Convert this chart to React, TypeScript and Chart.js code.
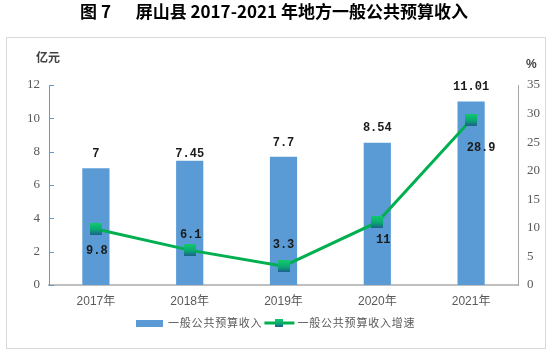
import React, { useEffect, useRef } from "react";
import { Chart, registerables } from "chart.js";

Chart.register(...registerables);

const categories = ["2017年", "2018年", "2019年", "2020年", "2021年"];
const revenue = [7, 7.45, 7.7, 8.54, 11.01];
const growth = [9.8, 6.1, 3.3, 11, 28.9];
const revenueLabels = ["7", "7.45", "7.7", "8.54", "11.01"];
const growthLabels = ["9.8", "6.1", "3.3", "11", "28.9"];
const seriesNames = ["一般公共预算收入", "一般公共预算收入增速"];
const leftUnit = "亿元";
const rightUnit = "%";
const titleText = "图 7\u3000  屏山县 2017-2021 年地方一般公共预算收入";

// label placement tweaks (style, not data)
const barLabelRise = [14, 7, 14, 15, 15];
const growthLabelShift = [
  [1, 22],
  [1, -15],
  [0, -21],
  [6, 18],
  [10, 28],
];

const BAR_COLOR = "#5B9BD5";
const LINE_COLOR = "#00B050";
const TEXT_GRAY = "#595959";

function makeMarker(size: number) {
  const c = document.createElement("canvas");
  c.width = size;
  c.height = size;
  const g = c.getContext("2d")!;
  const gr = g.createLinearGradient(0, 0, 0, size);
  gr.addColorStop(0, "#12C96B");
  gr.addColorStop(0.55, "#0BA873");
  gr.addColorStop(1, "#1D5F8C");
  g.fillStyle = gr;
  g.fillRect(0, 0, size, size);
  return c;
}

const overlayPlugin = {
  id: "overlay",
  afterDatasetsDraw(chart: any) {
    const ctx = chart.ctx;
    ctx.save();
    ctx.font = 'bold 12px "Liberation Mono", monospace';
    ctx.fillStyle = "#1a1a1a";
    ctx.textAlign = "center";
    ctx.textBaseline = "middle";
    const barMeta = chart.getDatasetMeta(0);
    barMeta.data.forEach((el: any, i: number) => {
      ctx.fillText(revenueLabels[i], el.x, el.y - barLabelRise[i]);
    });
    const lineMeta = chart.getDatasetMeta(1);
    lineMeta.data.forEach((el: any, i: number) => {
      const [dx, dy] = growthLabelShift[i];
      ctx.fillText(growthLabels[i], el.x + dx, el.y + dy);
    });
    ctx.restore();
  },
  afterDraw(chart: any) {
    const ctx = chart.ctx;
    const area = chart.chartArea;
    const yL = chart.scales.y;
    ctx.save();
    // inward ticks on left axis
    ctx.strokeStyle = BAR_COLOR;
    ctx.lineWidth = 1;
    yL.ticks.forEach((t: any) => {
      const py = Math.round(yL.getPixelForValue(t.value)) + 0.5;
      ctx.beginPath();
      ctx.moveTo(area.left, py);
      ctx.lineTo(area.left + 5, py);
      ctx.stroke();
    });
    // unit labels
    ctx.fillStyle = "#404040";
    ctx.font = 'bold 12px "Noto Sans CJK SC", sans-serif';
    ctx.textBaseline = "middle";
    ctx.textAlign = "left";
    ctx.fillText(leftUnit, 36, 57);
    ctx.font = 'bold 12px "Liberation Sans", sans-serif';
    ctx.fillText(rightUnit, 526, 65);

    // legend
    const ly = 323;
    ctx.fillStyle = BAR_COLOR;
    ctx.fillRect(136, 320, 27, 7);
    ctx.font = '11px "Noto Sans CJK SC", sans-serif';
    (ctx as any).letterSpacing = "0.8px";
    ctx.fillStyle = TEXT_GRAY;
    ctx.fillText(seriesNames[0], 168, ly);
    const w1 = ctx.measureText(seriesNames[0]).width;
    const lx = 168 + w1 + 2;
    ctx.strokeStyle = LINE_COLOR;
    ctx.lineWidth = 3;
    ctx.beginPath();
    ctx.moveTo(lx, ly);
    ctx.lineTo(lx + 30, ly);
    ctx.stroke();
    const m = makeMarker(8);
    ctx.drawImage(m, lx + 15 - 4, ly - 4);
    ctx.fillStyle = TEXT_GRAY;
    ctx.fillText(seriesNames[1], lx + 33, ly);
    ctx.restore();
  },
};

export default function App() {
  const ref = useRef<HTMLCanvasElement>(null);

  useEffect(() => {
    document.body.style.margin = "0";
    const marker = makeMarker(12);
    const tickFont = { family: '"Liberation Serif", serif', size: 13 };
    const chart = new Chart(ref.current!, {
      type: "bar",
      data: {
        labels: categories,
        datasets: [
          {
            type: "bar",
            label: seriesNames[0],
            data: revenue,
            backgroundColor: BAR_COLOR,
            barPercentage: 0.29,
            categoryPercentage: 1,
            yAxisID: "y",
            order: 1,
          },
          {
            type: "line",
            label: seriesNames[1],
            data: growth,
            borderColor: LINE_COLOR,
            borderWidth: 3,
            pointStyle: marker as any,
            pointRadius: 6,
            pointHoverRadius: 6,
            tension: 0,
            yAxisID: "y1",
            order: 0,
          },
        ],
      },
      options: {
        responsive: false,
        animation: false,
        events: [],
        layout: { padding: { top: 85, left: 0, right: 0, bottom: 0 } },
        plugins: {
          legend: { display: false },
          tooltip: { enabled: false },
          title: { display: false },
        },
        scales: {
          x: {
            offset: true,
            grid: { display: false, drawTicks: false },
            border: { display: true, color: "#BFBFBF", width: 2 },
            ticks: {
              color: TEXT_GRAY,
              padding: 9,
              font: { family: '"Liberation Sans", "Noto Sans CJK SC", sans-serif', size: 12 },
            },
            afterFit: (s: any) => {
              s.height = 67;
            },
          },
          y: {
            position: "left",
            min: 0,
            max: 12,
            grid: { display: false, drawTicks: false },
            border: { display: true, color: BAR_COLOR, width: 1 },
            ticks: { stepSize: 2, color: TEXT_GRAY, padding: 9, font: tickFont },
            afterFit: (s: any) => {
              s.width = 49;
            },
          },
          y1: {
            position: "right",
            min: 0,
            max: 35,
            grid: { display: false, drawTicks: false },
            border: { display: true, color: "#A6A6A6", width: 1 },
            ticks: { stepSize: 5, color: TEXT_GRAY, padding: 9, font: tickFont },
            afterFit: (s: any) => {
              s.width = 34;
            },
          },
        },
      },
      plugins: [overlayPlugin],
    } as any);
    return () => chart.destroy();
  }, []);

  return (
    <div style={{ position: "fixed", left: 0, top: 0, width: 552, height: 352, background: "#fff" }}>
      <div
        style={{
          position: "absolute",
          left: 0,
          top: 0,
          width: 548,
          height: 22,
          lineHeight: "22px",
          textAlign: "center",
          whiteSpace: "pre",
          fontFamily: '"Noto Sans CJK SC", sans-serif',
          fontWeight: 700,
          fontSize: 17,
          color: "#000",
        }}
      >
        {titleText}
      </div>
      <div
        style={{
          position: "absolute",
          left: 6,
          top: 37,
          width: 540,
          height: 312,
          boxSizing: "border-box",
          border: "1px solid #D9D9D9",
        }}
      />
      <canvas
        ref={ref}
        width={552}
        height={352}
        style={{ position: "absolute", left: 0, top: 0, width: 552, height: 352 }}
      />
    </div>
  );
}
